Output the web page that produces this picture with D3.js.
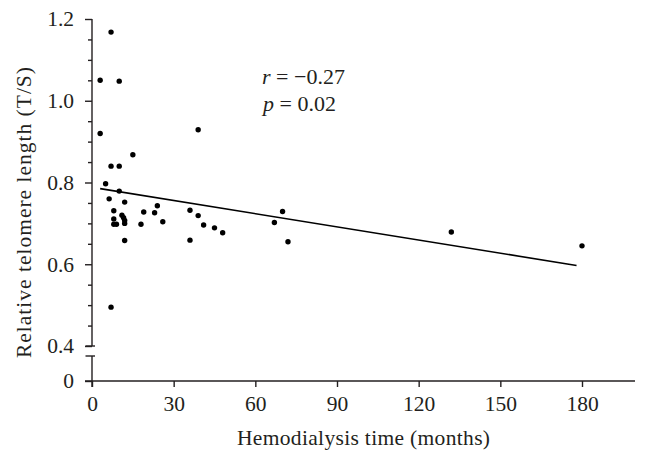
<!DOCTYPE html>
<html>
<head>
<meta charset="utf-8">
<script src="https://cdn.jsdelivr.net/npm/d3@7"></script>
<style>
  html, body { margin: 0; padding: 0; background: #fff; }
  svg { display: block; }
</style>
</head>
<body>
<svg id="chart" width="650" height="464"></svg>
<script>
// ---- data ----
const months = [3, 3, 5, 6.3, 7, 7, 7, 8, 8, 8, 9, 10, 10, 10, 11, 11.6, 12, 12, 12, 12,
                15, 18, 19, 23, 24, 26, 36, 36, 39, 39, 41, 45, 48, 67, 70, 72, 132, 180];
const telomere = [1.05, 0.92, 0.797, 0.76, 1.168, 0.84, 0.495, 0.731, 0.711, 0.698, 0.698, 1.048, 0.84, 0.779, 0.72, 0.714, 0.752, 0.707, 0.70, 0.658,
                  0.868, 0.698, 0.728, 0.726, 0.743, 0.704, 0.732, 0.659, 0.929, 0.719, 0.696, 0.689, 0.677, 0.702, 0.729, 0.655, 0.679, 0.645];
const trendX = [3, 178];
const trendY = [0.785, 0.597];
const xTicks = [0, 30, 60, 90, 120, 150, 180];
const yTicks = [0.4, 0.6, 0.8, 1.0, 1.2];
const yMinorTicks = [0.45, 0.5, 0.55, 0.65, 0.7, 0.75, 0.85, 0.9, 0.95, 1.05, 1.1, 1.15];
const yBreakTicks = [0];
const xTitle = "Hemodialysis time (months)";
const yTitle = "Relative telomere length (T/S)";
const statR = "\u2212" + "0.27";
const statP = "0.02";

// ---- layout ----
const svg = d3.select("#chart");
const ink = "#231f20";
const fontStyle = sz => `font-family:'Liberation Serif','Times New Roman',serif;font-size:${sz}px;fill:${ink}`;
const x = d3.scaleLinear().domain([0, 180]).range([92, 582]);
const y = d3.scaleLinear().domain([0.4, 1.2]).range([346, 19]);
const yZero = 381;

// upper y-axis segment: major ticks with labels
const gY = svg.append("g").attr("transform", `translate(${x(0)},0)`);
gY.call(d3.axisLeft(y).tickValues(yTicks).tickSize(7).tickPadding(11)
  .tickFormat(d3.format(".1f")));
gY.select(".domain").attr("d", `M0,${y(0.4)}V${y(1.2)}`);
// minor ticks
const gYm = svg.append("g").attr("transform", `translate(${x(0)},0)`);
gYm.call(d3.axisLeft(y).tickValues(yMinorTicks).tickSize(4).tickFormat(""));
gYm.select(".domain").remove();

// lower y-axis segment (broken axis) with label 0
const yLow = d3.scaleLinear().domain([0, 1]).range([yZero, yZero - 100]);
const gYl = svg.append("g").attr("transform", `translate(${x(0)},0)`);
gYl.call(d3.axisLeft(yLow).tickValues(yBreakTicks).tickSize(7).tickPadding(11)
  .tickFormat(d3.format("d")));
gYl.select(".domain").attr("d", `M0,${yZero - 25}V${yZero + 6}`);

// break caps
svg.append("line").attr("x1", x(0) - 6.5).attr("x2", x(0) + 3).attr("y1", y(0.4)).attr("y2", y(0.4));
svg.append("line").attr("x1", x(0) - 6.5).attr("x2", x(0) + 3).attr("y1", yZero - 25).attr("y2", yZero - 25);

// x axis
const gX = svg.append("g").attr("transform", `translate(0,${yZero})`);
gX.call(d3.axisBottom(x).tickValues(xTicks).tickSize(6).tickPadding(9)
  .tickFormat(d3.format("d")));
gX.select(".domain").attr("d", `M${x(0) - 7},0H635`);

svg.selectAll("line").attr("stroke", ink).attr("stroke-width", 1.4);
svg.selectAll(".domain").attr("stroke", ink).attr("stroke-width", 1.4);
svg.selectAll(".tick text").attr("style", fontStyle(21.5));

// axis titles
svg.append("text").attr("x", 237).attr("y", 445).attr("style", fontStyle(21.5))
  .attr("textLength", 253).attr("lengthAdjust", "spacing")
  .text(xTitle);
svg.append("text").attr("transform", "translate(31,358) rotate(-90)").attr("style", fontStyle(21.5))
  .attr("textLength", 291).attr("lengthAdjust", "spacing")
  .text(yTitle);

// regression line
svg.append("line")
  .attr("x1", x(trendX[0])).attr("y1", y(trendY[0]))
  .attr("x2", x(trendX[1])).attr("y2", y(trendY[1]))
  .attr("stroke", "#000").attr("stroke-width", 1.6);

// points
svg.append("g").selectAll("circle")
  .data(months.map((m, i) => [m, telomere[i]]))
  .join("circle")
  .attr("cx", d => x(d[0])).attr("cy", d => y(d[1]))
  .attr("r", 2.7).attr("fill", "#000");

// statistics annotation
const t1 = svg.append("text").attr("x", 262).attr("y", 84).attr("style", fontStyle(22));
t1.append("tspan").attr("font-style", "italic").text("r");
t1.append("tspan").text(" = " + statR);
const t2 = svg.append("text").attr("x", 263).attr("y", 111).attr("style", fontStyle(22));
t2.append("tspan").attr("font-style", "italic").text("p");
t2.append("tspan").text(" = " + statP);
</script>
</body>
</html>
